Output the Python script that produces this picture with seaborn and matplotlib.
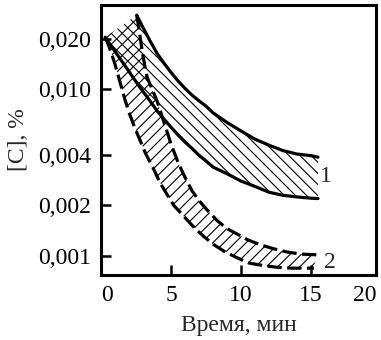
import numpy as np
import matplotlib.pyplot as plt
from matplotlib.ticker import NullLocator
import seaborn as sns

# band 1 (solid curves), [C] in %
b1_up_x = [2.55, 3.0, 3.5, 4.0, 4.5, 5.0, 5.5, 6.0, 6.5, 7.0, 7.5, 8.0, 9.0, 10.0,
           11.0, 12.0, 13.0, 14.0, 15.0, 15.5]
b1_up_y = [0.0278, 0.0234, 0.0195, 0.0164, 0.0143, 0.0126, 0.0112, 0.0101, 0.0092,
           0.0085, 0.0079, 0.0072, 0.0063, 0.0056, 0.0050, 0.0046, 0.00427, 0.00407,
           0.00398, 0.0039]
b1_lo_x = [0.3, 0.8, 1.3, 1.8, 2.3, 2.8, 3.5, 4.0, 4.5, 5.0, 5.5, 6.0, 6.5, 7.0, 7.5,
           8.0, 9.0, 10.0, 11.0, 12.0, 13.0, 14.0, 15.0, 15.5]
b1_lo_y = [0.0205, 0.0178, 0.0155, 0.0135, 0.0117, 0.0102, 0.0085, 0.0074, 0.0066,
           0.0059, 0.0053, 0.0048, 0.0044, 0.0040, 0.0037, 0.0034, 0.0031, 0.0028,
           0.0026, 0.0024, 0.0023, 0.00225, 0.00221, 0.0022]

# band 2 (dashed curves)
b2_up_x = [2.55, 2.7, 2.85, 3.0, 3.15, 3.3, 3.6, 4.0, 4.5, 5.0, 5.5, 6.0, 6.5, 7.0,
           7.5, 8.3, 9.0, 9.7, 10.5, 11.4, 12.3, 13.3, 14.3, 15.4]
b2_up_y = [0.0278, 0.0234, 0.0191, 0.0158, 0.0135, 0.01175, 0.0102, 0.00851, 0.00631,
           0.00468, 0.00363, 0.00295, 0.00245, 0.00214, 0.00191, 0.00162, 0.00145,
           0.00135, 0.00124, 0.00116, 0.0011, 0.00105, 0.00102, 0.00101]
b2_lo_x = [0.3, 0.6, 1.0, 1.4, 1.7, 2.0, 2.4, 2.8, 3.2, 3.7, 4.2, 4.7, 5.2, 5.7, 6.2,
           6.8, 7.4, 8.0, 8.8, 9.6, 10.6, 11.6, 12.6, 13.6, 14.7, 15.2]
b2_lo_y = [0.0205, 0.0178, 0.0141, 0.0107, 0.0087, 0.00724, 0.00589, 0.0049, 0.00407,
           0.00339, 0.00275, 0.00234, 0.0020, 0.0018, 0.00162, 0.00143, 0.00129,
           0.00117, 0.00106, 0.00098, 0.0009, 0.00087, 0.00085, 0.00084, 0.00084,
           0.00084]

x_ticks = [0, 5, 10, 15, 20]
y_ticks = [0.001, 0.002, 0.004, 0.010, 0.020]
y_labels = ["0,001", "0,002", "0,004", "0,010", "0,020"]

sns.set_theme(style="ticks")
plt.rcParams['font.family'] = ['Liberation Serif', 'DejaVu Serif']
plt.rcParams['hatch.linewidth'] = 0.8
plt.rcParams['hatch.color'] = 'black'

fig = plt.figure(figsize=(3.81, 3.40), dpi=100)
ax = fig.add_axes([101 / 381, 65 / 340, 275 / 381, 270 / 340])
ax.set_yscale('log')

# hatched bands
ax.fill(b1_lo_x + b1_up_x[::-1], b1_lo_y + b1_up_y[::-1],
        facecolor='none', edgecolor='black', lw=0, hatch='\\\\\\')
ax.fill(b2_lo_x + b2_up_x[::-1], b2_lo_y + b2_up_y[::-1],
        facecolor='none', edgecolor='black', lw=0, hatch='///')

for xs, ys in [(b1_up_x, b1_up_y), (b1_lo_x, b1_lo_y)]:
    sns.lineplot(x=xs, y=ys, ax=ax, color='black', lw=2.3, sort=False, estimator=None)
for xs, ys in [(b2_up_x, b2_up_y), (b2_lo_x, b2_lo_y)]:
    sns.lineplot(x=xs, y=ys, ax=ax, color='black', lw=2.3, sort=False,
                 estimator=None, linestyle=(0, (4.5, 1.7)))

ax.text(16.07, 0.0030, "1", fontsize=17, ha='center', va='center')
ax.text(16.36, 0.000914, "2", fontsize=17, ha='center', va='center')

xmax = 19.64
ax.set_xlim(0, xmax)
ax.set_ylim(0.000764, 0.0320)
ax.set_xticks([min(t, xmax) for t in x_ticks], [str(t) for t in x_ticks])
xl = ax.get_xticklabels()
xl[0].set_ha('left')
xl[-1].set_ha('right')
ax.set_yticks(y_ticks, y_labels)
ax.yaxis.set_minor_locator(NullLocator())
ax.xaxis.set_minor_locator(NullLocator())

ax.tick_params(direction='in', length=7, width=1.8, labelsize=17, pad=7, colors='black')
for s in ax.spines.values():
    s.set_linewidth(2.2)
    s.set_color('black')

ax.set_xlabel("Время, мин", fontsize=17, labelpad=7)
ax.set_ylabel("[C], %", fontsize=17, labelpad=7)

fig.savefig("out.png", dpi=100)
